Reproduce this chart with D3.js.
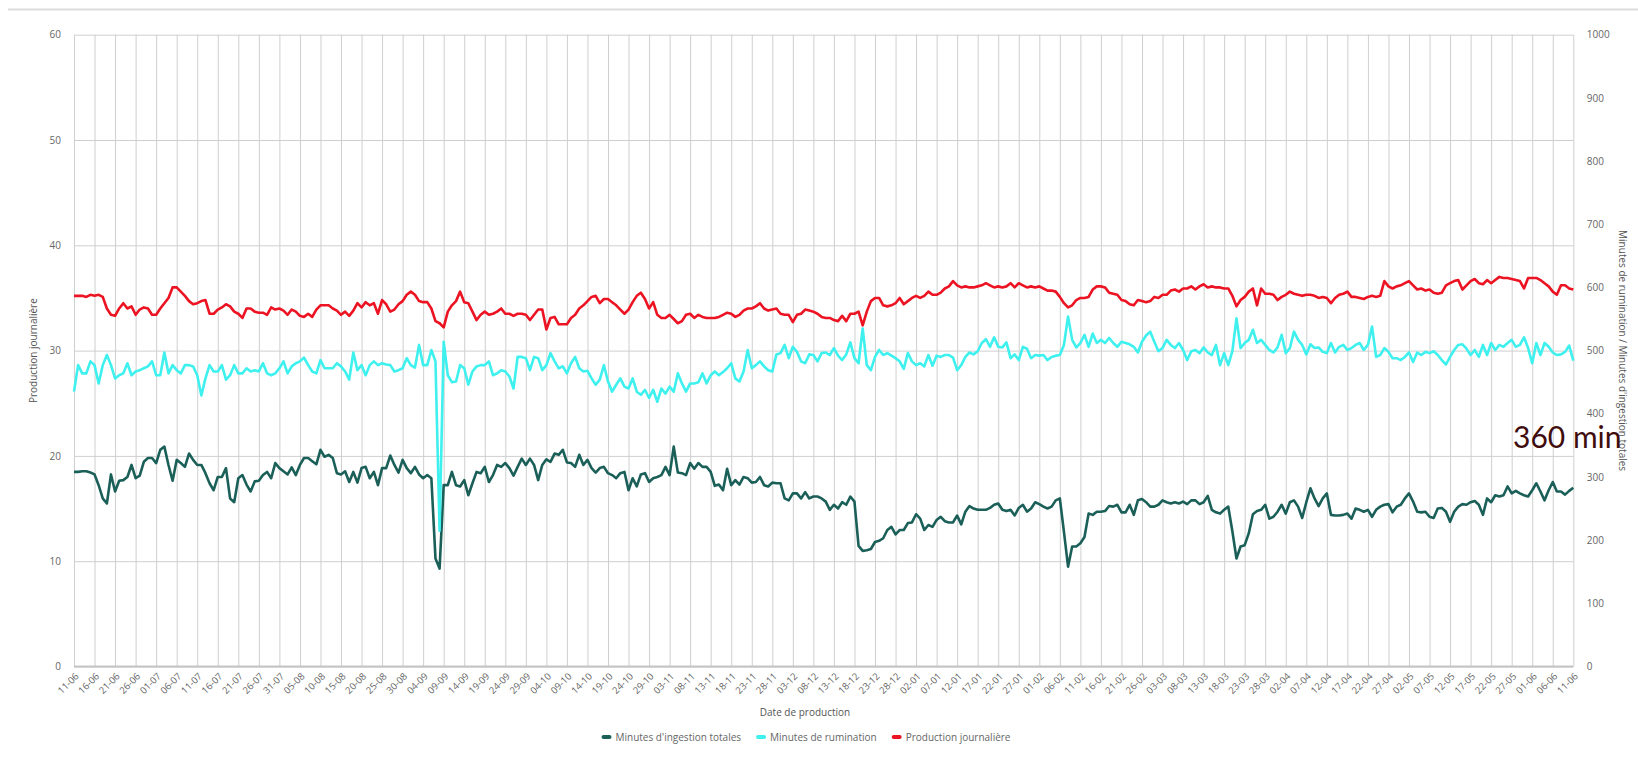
<!DOCTYPE html>
<html>
<head>
<meta charset="utf-8">
<script src="https://cdn.jsdelivr.net/npm/d3@7"></script>
<style>
  body { margin: 0; background: #fff; }
  svg { display: block; font-family: "Open Sans", sans-serif; }
</style>
</head>
<body>
<div id="chart"></div>
<script>

// first and last day of the period (one point per day)
var startDate = Date.UTC(2024, 5, 11);
var endDate = Date.UTC(2025, 5, 12);

var seriesNames = ["Minutes d'ingestion totales", "Minutes de rumination", "Production journalière"];
var seriesColors = ["#1b5f59", "#3ef0ee", "#ec1322"];

var leftTicks = [0, 10, 20, 30, 40, 50, 60];
var rightTicks = [0, 100, 200, 300, 400, 500, 600, 700, 800, 900, 1000];

// Production journalière (litres)
var production = [
  35.2,35.2,35.2,35.1,35.3,35.2,35.3,35.1,34.0,33.4,
  33.3,34.0,34.5,34.0,34.2,33.4,33.9,34.1,34.0,33.4,
  33.4,34.0,34.5,35.0,36.0,36.0,35.6,35.2,34.7,34.4,
  34.5,34.7,34.8,33.5,33.5,33.9,34.1,34.4,34.2,33.7,
  33.5,33.1,34.0,34.0,33.7,33.6,33.6,33.4,34.1,33.9,
  34.0,33.8,33.4,33.9,33.7,33.3,33.2,33.5,33.2,33.9,
  34.3,34.3,34.3,34.0,33.8,33.4,33.7,33.3,33.8,34.5,
  34.1,34.6,34.3,
  34.5,33.5,34.8,34.4,33.7,33.9,34.4,34.7,35.3,35.6,
  35.3,34.7,34.6,34.6,34.0,32.8,32.6,32.2,33.7,34.3,
  34.7,35.6,34.6,34.5,33.7,32.9,33.4,33.7,33.4,33.5,
  33.7,34.0,33.5,33.5,33.3,33.5,33.5,33.4,32.9,33.4,
  33.9,33.9,32.0,33.1,33.2,32.5,32.5,32.5,33.1,33.4,
  34.0,34.3,34.7,35.1,35.2,34.5,34.9,34.9,34.6,34.3,
  33.9,33.5,33.9,34.6,35.2,35.5,34.9,34.0,34.6,33.4,
  33.1,33.1,33.4,
  33.0,32.6,32.8,33.4,33.5,33.1,33.4,33.2,33.1,33.1,
  33.1,33.2,33.4,33.6,33.5,33.2,33.4,33.8,34.0,34.0,
  34.2,34.5,34.0,33.8,33.9,34.0,33.5,33.4,33.4,32.7,
  33.4,33.5,33.9,33.8,33.7,33.5,33.2,33.1,33.1,32.9,
  32.8,33.3,32.8,33.5,33.5,33.7,32.4,33.7,34.7,35.0,
  35.0,34.3,34.2,34.3,34.5,35.0,34.4,34.7,35.0,35.2,
  35.0,35.2,35.6,35.3,35.3,35.5,35.9,36.1,36.6,36.2,
  36.0,36.1,36.0,
  36.0,36.1,36.2,36.4,36.2,36.0,36.1,36.0,36.1,36.4,
  36.0,36.4,36.2,36.0,36.1,36.0,36.1,35.9,35.7,35.7,
  35.6,35.1,34.5,34.1,34.3,34.8,35.0,35.0,35.1,35.8,
  36.1,36.1,36.0,35.5,35.4,35.3,34.8,34.7,34.4,34.3,
  34.8,34.7,34.6,34.7,35.1,35.0,35.3,35.3,35.7,35.8,
  35.6,35.9,35.9,36.1,35.8,36.1,36.3,36.0,36.1,36.0,
  36.0,35.9,35.9,35.2,34.2,34.8,35.1,35.6,35.9,34.3,
  35.9,35.4,35.4,
  35.3,34.8,35.1,35.3,35.6,35.4,35.3,35.2,35.3,35.3,
  35.2,35.0,35.1,35.0,34.5,35.0,35.3,35.4,35.6,35.1,
  35.1,35.0,34.9,35.1,35.2,35.1,35.2,36.6,36.1,35.9,
  36.1,36.2,36.4,36.6,36.2,35.8,35.9,35.7,35.8,35.5,
  35.4,35.5,36.2,36.4,36.6,36.7,35.8,36.2,36.6,36.8,
  36.4,36.3,36.7,36.4,36.7,37.0,36.9,36.9,36.8,36.7,
  36.6,35.9,36.9,36.9,36.9,36.7,36.4,36.1,35.6,35.3,
  36.2,36.2,35.9,35.8
];

// Minutes de rumination
var rumination = [
  435,477,464,464,483,477,448,477,493,477,
  456,461,464,480,461,467,469,472,475,483,
  461,461,497,464,477,469,464,477,477,475,
  461,429,456,477,467,467,477,454,461,477,
  464,464,472,467,469,467,480,464,461,464,
  472,483,464,475,480,483,489,477,467,464,
  485,472,472,472,480,475,467,454,497,469,
  477,461,477,
  483,477,480,478,477,467,469,472,488,477,
  473,509,477,477,501,483,215,514,461,450,
  451,477,472,446,467,475,477,477,483,461,
  464,469,467,459,440,490,490,488,469,490,
  488,469,477,496,483,472,475,464,480,490,
  472,467,468,456,446,454,477,451,435,446,
  456,443,440,456,435,430,438,425,438,419,
  440,432,443,
  435,464,448,435,448,448,450,464,448,461,
  467,461,466,472,480,456,451,467,501,472,
  477,483,475,469,467,494,496,509,488,506,
  498,483,480,494,493,483,496,497,493,504,
  492,485,494,513,488,480,535,477,469,490,
  501,493,496,492,488,483,471,496,483,477,
  480,475,493,476,492,490,493,493,489,469,
  477,490,497,
  494,499,512,518,506,521,506,505,513,488,
  494,485,506,503,488,493,492,493,485,490,
  492,493,509,554,517,505,512,525,506,527,
  512,517,512,520,512,506,514,512,510,506,
  497,514,524,530,514,499,504,517,509,504,
  512,501,485,499,501,496,505,497,493,509,
  477,496,477,499,551,504,512,517,533,512,
  517,509,501,
  497,505,525,496,504,530,517,509,494,510,
  504,505,498,496,512,497,506,509,501,504,
  509,512,501,509,538,490,493,504,498,488,
  488,485,490,497,482,497,493,498,496,499,
  493,485,478,490,501,509,510,503,493,501,
  490,509,493,512,501,509,506,512,517,506,
  509,521,504,480,512,493,512,506,497,493,
  494,498,508,484
];

// Minutes d'ingestion totales
var ingestion = [
  308,308,309,309,307,304,287,266,258,304,
  277,294,295,300,319,298,302,324,330,330,
  322,343,348,319,294,327,322,316,337,327,
  319,319,306,290,279,300,300,314,266,260,
  298,303,288,277,293,294,303,308,298,322,
  314,309,304,315,303,319,330,330,325,320,
  343,332,335,330,306,304,309,292,308,291,
  314,316,298,
  308,287,314,314,334,319,307,327,314,306,
  316,304,298,303,298,171,155,287,287,308,
  287,285,295,271,290,308,306,316,292,303,
  319,316,322,314,302,316,329,319,329,319,
  295,319,328,324,337,335,343,323,322,316,
  335,319,327,314,307,314,316,306,303,298,
  306,308,279,298,285,304,306,292,298,300,
  303,316,303,
  348,307,306,303,322,313,322,316,316,308,
  286,288,279,313,287,295,288,300,298,291,
  292,300,287,285,291,290,290,266,263,274,
  274,266,276,266,269,269,266,261,248,256,
  250,260,256,269,261,191,183,184,186,197,
  199,203,216,221,209,216,216,227,228,241,
  234,216,224,221,232,237,230,228,228,239,
  225,245,254,
  250,248,248,248,251,256,258,248,246,248,
  239,251,256,245,250,260,257,253,250,253,
  263,266,213,158,190,190,195,205,242,240,
  245,245,246,254,253,256,244,244,256,240,
  263,265,260,253,253,256,263,260,258,260,
  258,261,257,263,263,257,260,270,248,244,
  242,248,253,214,171,190,192,211,241,246,
  248,256,234,
  237,245,256,242,260,263,253,235,260,282,
  266,254,266,274,240,239,239,240,242,234,
  250,248,245,248,237,248,253,256,257,244,
  253,256,266,274,261,245,244,245,237,235,
  250,251,245,229,245,253,257,256,260,262,
  256,240,266,260,271,269,271,285,274,278,
  274,271,269,279,290,277,263,279,292,277,
  277,272,278,283
];

var dates = d3.utcDay.range(startDate, endDate);
var tickDates = dates.filter(function(d, i) { return i % 5 == 0; });

// CREATE THE SVG CANVAS
var width = 1638;
var height = 760;
var margin = {top: 34.7, right: 64.7, bottom: 93.5, left: 74};
var plotW = width - margin.left - margin.right;
var plotH = height - margin.top - margin.bottom;

var svg = d3.select("#chart")
    .append("svg")
    .attr("width", width)
    .attr("height", height);

svg.append("rect")
    .attr("width", width)
    .attr("height", height)
    .attr("fill", "#fff");

// thin separator line at the very top
svg.append("line")
    .attr("x1", 8).attr("x2", width)
    .attr("y1", 9.5).attr("y2", 9.5)
    .attr("stroke", "#dcdcdc")
    .attr("stroke-width", 2);

var g = svg.append("g")
    .attr("transform", "translate(" + margin.left + "," + margin.top + ")");

var x = d3.scaleUtc()
    .domain([dates[0], dates[dates.length - 1]])
    .range([0, plotW]);

var yLeft = d3.scaleLinear().domain([0, 60]).range([plotH, 0]);
var yRight = d3.scaleLinear().domain([0, 1000]).range([plotH, 0]);

// gridlines
g.append("g")
    .attr("class", "grid")
    .call(d3.axisLeft(yLeft).tickValues(leftTicks).tickSize(-plotW).tickFormat(""));

g.append("g")
    .attr("class", "grid")
    .attr("transform", "translate(0," + plotH + ")")
    .call(d3.axisBottom(x).tickValues(tickDates).tickSize(plotH).tickFormat(""))
    .selectAll(".tick line")
    .attr("transform", "translate(0," + (-plotH) + ")");

g.selectAll(".grid .domain").remove();
g.selectAll(".grid line")
    .attr("stroke", "#cfcfcf")
    .attr("stroke-width", 1);

// base line
g.append("line")
    .attr("x1", 0).attr("x2", plotW)
    .attr("y1", plotH).attr("y2", plotH)
    .attr("stroke", "#c4c4c4")
    .attr("stroke-width", 2);

// axes labels
var leftAxis = g.append("g")
    .call(d3.axisLeft(yLeft).tickValues(leftTicks).tickSize(0).tickPadding(13));

var rightAxis = g.append("g")
    .attr("transform", "translate(" + plotW + ",0)")
    .call(d3.axisRight(yRight).tickValues(rightTicks).tickSize(0).tickPadding(13.5).tickFormat(d3.format("d")));

[leftAxis, rightAxis].forEach(function(a) {
    a.select(".domain").remove();
    a.selectAll("text")
        .attr("fill", "#666")
        .style("font-size", "10px")
        .style("font-family", "'Open Sans', sans-serif");
});

var fmt = d3.utcFormat("%d-%m");

g.append("g")
    .selectAll("text")
    .data(tickDates)
    .enter()
    .append("text")
        .attr("transform", function(d) { return "translate(" + (x(d) + 3) + "," + (plotH + 8) + ") rotate(-45)"; })
        .attr("text-anchor", "end")
        .attr("dy", "0.35em")
        .attr("fill", "#666")
        .style("font-size", "9.5px")
        .text(function(d) { return fmt(d); });

// lines
var lineLeft = d3.line()
    .x(function(d, i) { return x(dates[i]); })
    .y(function(d) { return yLeft(d); });

var lineRight = d3.line()
    .x(function(d, i) { return x(dates[i]); })
    .y(function(d) { return yRight(d); });

var lines = [
    {values: ingestion, line: lineRight, color: seriesColors[0]},
    {values: rumination, line: lineRight, color: seriesColors[1]},
    {values: production, line: lineLeft, color: seriesColors[2]}
];

lines.forEach(function(s) {
    g.append("path")
        .datum(s.values)
        .attr("fill", "none")
        .attr("stroke", s.color)
        .attr("stroke-width", 2.6)
        .attr("stroke-linejoin", "round")
        .attr("d", s.line);
});

// axis titles
svg.append("text")
    .attr("transform", "translate(37," + (margin.top + plotH / 2) + ") rotate(-90)")
    .attr("text-anchor", "middle")
    .attr("fill", "#555")
    .style("font-size", "10px")
    .text("Production journalière");

svg.append("text")
    .attr("transform", "translate(1619," + (margin.top + plotH / 2) + ") rotate(90)")
    .attr("text-anchor", "middle")
    .attr("fill", "#555")
    .style("font-size", "10px")
    .text("Minutes de rumination / Minutes d'ingestion totales");

svg.append("text")
    .attr("x", 805)
    .attr("y", 716)
    .attr("text-anchor", "middle")
    .attr("fill", "#555")
    .style("font-size", "10px")
    .text("Date de production");

// legend
var legend = svg.append("g");
var lx = 0;
seriesNames.forEach(function(name, i) {
    legend.append("rect")
        .attr("x", lx)
        .attr("y", -2)
        .attr("width", 10)
        .attr("height", 4)
        .attr("rx", 2)
        .attr("fill", seriesColors[i]);
    var t = legend.append("text")
        .attr("x", lx + 14)
        .attr("y", 0)
        .attr("dy", "0.35em")
        .attr("fill", "#666")
        .style("font-size", "10px")
        .text(name);
    lx += 14 + t.node().getComputedTextLength() + 15;
});
lx -= 15;
legend.attr("transform", "translate(" + (806 - lx / 2) + ",737)");

// annotation
svg.append("text")
    .attr("x", 1513)
    .attr("y", 448)
    .attr("fill", "#3f0d0d")
    .style("font-family", "Lato, sans-serif")
    .style("font-size", "30px")
    .text("360 min");

</script>
</body>
</html>
